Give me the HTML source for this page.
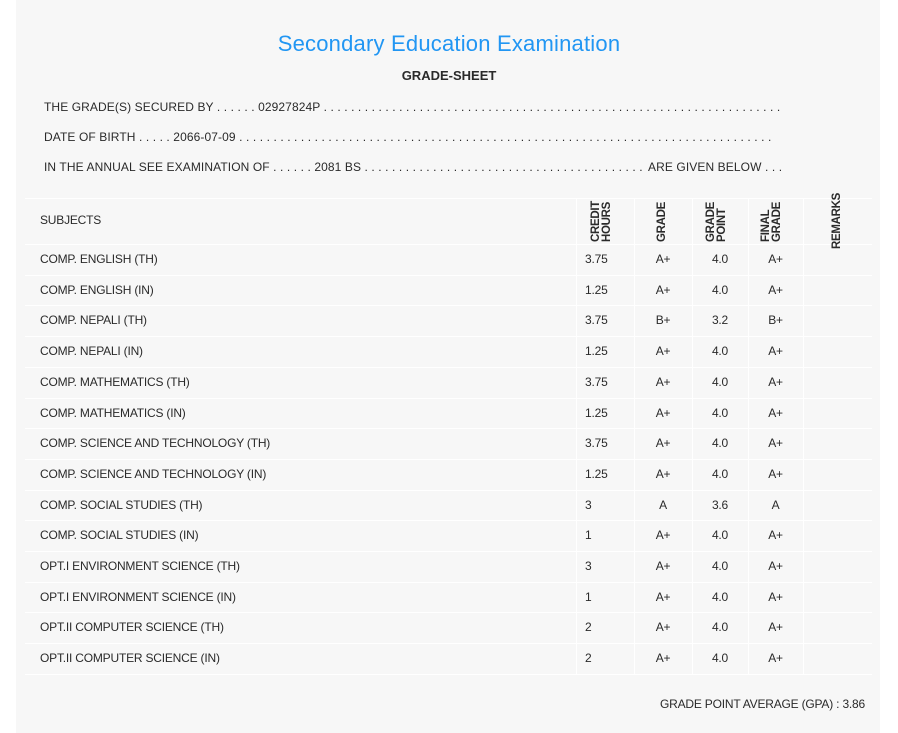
<!DOCTYPE html>
<html><head><meta charset="utf-8"><style>
body{margin:0;width:898px;height:733px;background:#fff;font-family:"Liberation Sans",sans-serif;color:#2a2a2a;overflow:hidden;position:relative}
.panel{position:absolute;left:16px;top:0;width:864px;height:733px;background:#f7f7f7}
.t{position:absolute;white-space:nowrap;font-size:12px;letter-spacing:-0.2px}
.ln{position:absolute;white-space:nowrap;font-size:12px;overflow:hidden;letter-spacing:0.1px}
.title{position:absolute;left:0;width:898px;top:31px;text-align:center;color:#2196f3;font-size:22px;letter-spacing:0.2px}
.gs{position:absolute;left:0;width:898px;top:68px;text-align:center;font-weight:bold;font-size:13px}
.hl{position:absolute;left:25px;width:847px;height:1px;background:#fff}
.vl{position:absolute;width:1px;background:#fff}
.rot{position:absolute;transform:rotate(-90deg);transform-origin:left top;font-size:11.5px;font-weight:bold;line-height:11px;letter-spacing:-0.3px;z-index:2}
.c{text-align:center}
</style></head><body>
<div class="panel"></div>
<div class="title">Secondary Education Examination</div>
<div class="gs">GRADE-SHEET</div>
<div class="ln" style="left:44px;top:100px;width:737px" id="l1">THE GRADE(S) SECURED BY . . . . . . 02927824P </div>
<div class="ln" style="left:44px;top:130px;width:729px" id="l2">DATE OF BIRTH . . . . . 2066-07-09 </div>
<div class="ln" style="left:44px;top:160px;width:602px" id="l3">IN THE ANNUAL SEE EXAMINATION OF . . . . . . 2081 BS </div>
<div class="ln" style="left:648px;top:160px">ARE GIVEN BELOW . . .</div>
<div class="hl" style="top:198px"></div>
<div class="t" style="left:40px;top:213px">SUBJECTS</div>
<div class="rot" style="left:591px;top:242px">CREDIT<br>HOURS</div>
<div class="rot" style="left:657px;top:242px">GRADE</div>
<div class="rot" style="left:706px;top:242px">GRADE<br>POINT</div>
<div class="rot" style="left:761px;top:242px">FINAL<br>GRADE</div>
<div class="rot" style="left:832px;top:249px">REMARKS</div>
<div id="rows"></div>
<div class="vl" style="left:576px;top:198px;height:477px"></div>
<div class="vl" style="left:634px;top:198px;height:477px"></div>
<div class="vl" style="left:692px;top:198px;height:477px"></div>
<div class="vl" style="left:748px;top:198px;height:477px"></div>
<div class="vl" style="left:803px;top:198px;height:477px"></div>
<div class="t" style="right:33px;top:697px">GRADE POINT AVERAGE (GPA) : 3.86</div>
<script>
var dd=new Array(130).join(". ");
["l1","l2","l3"].forEach(function(k){document.getElementById(k).textContent+=dd;});
var d=[["COMP. ENGLISH (TH)","3.75","A+","4.0","A+"],["COMP. ENGLISH (IN)","1.25","A+","4.0","A+"],["COMP. NEPALI (TH)","3.75","B+","3.2","B+"],["COMP. NEPALI (IN)","1.25","A+","4.0","A+"],["COMP. MATHEMATICS (TH)","3.75","A+","4.0","A+"],["COMP. MATHEMATICS (IN)","1.25","A+","4.0","A+"],["COMP. SCIENCE AND TECHNOLOGY (TH)","3.75","A+","4.0","A+"],["COMP. SCIENCE AND TECHNOLOGY (IN)","1.25","A+","4.0","A+"],["COMP. SOCIAL STUDIES (TH)","3","A","3.6","A"],["COMP. SOCIAL STUDIES (IN)","1","A+","4.0","A+"],["OPT.I ENVIRONMENT SCIENCE (TH)","3","A+","4.0","A+"],["OPT.I ENVIRONMENT SCIENCE (IN)","1","A+","4.0","A+"],["OPT.II COMPUTER SCIENCE (TH)","2","A+","4.0","A+"],["OPT.II COMPUTER SCIENCE (IN)","2","A+","4.0","A+"]];
var h="";
for(var i=0;i<d.length;i++){var ry=244+i*30.7,ty=ry+8;
h+='<div class="hl" style="top:'+ry+'px"></div>';
h+='<div class="t" style="left:40px;top:'+ty+'px">'+d[i][0]+'</div>';
h+='<div class="t" style="left:585px;top:'+ty+'px">'+d[i][1]+'</div>';
h+='<div class="t c" style="left:634px;width:58px;top:'+ty+'px">'+d[i][2]+'</div>';
h+='<div class="t c" style="left:692px;width:56px;top:'+ty+'px">'+d[i][3]+'</div>';
h+='<div class="t c" style="left:748px;width:55px;top:'+ty+'px">'+d[i][4]+'</div>';}
h+='<div class="hl" style="top:674px"></div>';
document.getElementById("rows").innerHTML=h;
</script>
</body></html>
